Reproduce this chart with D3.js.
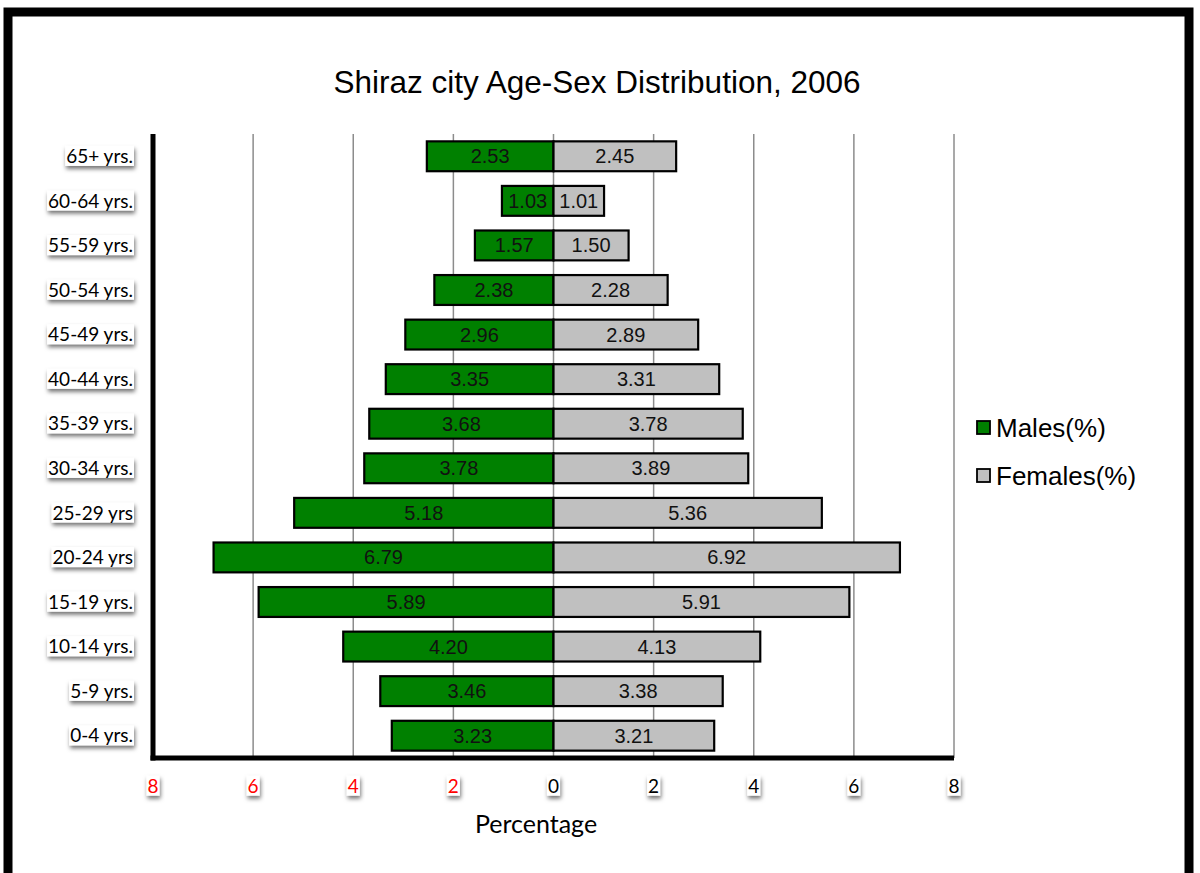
<!DOCTYPE html>
<html>
<head>
<meta charset="utf-8">
<script src="https://cdn.jsdelivr.net/npm/d3@7"></script>
<style>
body { margin: 0; background: #fff; }
svg { display: block; }
</style>
</head>
<body>
<div id="chart"></div>
<script>
const ageGroups = ["65+ yrs.", "60-64 yrs.", "55-59 yrs.", "50-54 yrs.", "45-49 yrs.", "40-44 yrs.", "35-39 yrs.",
	"30-34 yrs.", "25-29 yrs", "20-24 yrs", "15-19 yrs.", "10-14 yrs.", "5-9 yrs.", "0-4 yrs."];
const males = [2.53, 1.03, 1.57, 2.38, 2.96, 3.35, 3.68, 3.78, 5.18, 6.79, 5.89, 4.20, 3.46, 3.23];
const females = [2.45, 1.01, 1.50, 2.28, 2.89, 3.31, 3.78, 3.89, 5.36, 6.92, 5.91, 4.13, 3.38, 3.21];
const xTicks = [-8, -6, -4, -2, 0, 2, 4, 6, 8];
const seriesNames = ["Males(%)", "Females(%)"];

const W = 1200, H = 873;
const plot = { left: 153, right: 954, top: 134, bottom: 758 };
const colors = ["#008000", "#c0c0c0"];

const svg = d3.select("#chart").append("svg")
	.attr("width", W)
	.attr("height", H);

const defs = svg.append("defs");
const shadow = defs.append("filter").attr("id", "shadow")
	.attr("x", "-40%").attr("y", "-30%").attr("width", "180%").attr("height", "190%");
shadow.append("feDropShadow")
	.attr("dx", 1).attr("dy", 3).attr("stdDeviation", 2)
	.attr("flood-color", "#000").attr("flood-opacity", 0.55);

// outer frame
svg.append("rect")
	.attr("x", 8).attr("y", 12)
	.attr("width", 1181).attr("height", 870)
	.attr("fill", "#fff")
	.attr("stroke", "#000")
	.attr("stroke-width", 9);

svg.append("text")
	.attr("x", 597).attr("y", 93)
	.attr("text-anchor", "middle")
	.style("font-family", "'Liberation Sans', Arial, sans-serif")
	.style("font-size", "31.5px")
	.text("Shiraz city Age-Sex Distribution, 2006");

const x = d3.scaleLinear().domain([-8, 8]).range([plot.left, plot.right]);
const y = d3.scaleBand().domain(ageGroups).range([plot.top, plot.bottom]).paddingInner(0.33).paddingOuter(0.165);

// gridlines
svg.append("g")
	.selectAll("line")
	.data(xTicks.filter(d => d !== -8))
	.enter()
	.append("line")
	.attr("x1", d => x(d)).attr("x2", d => x(d))
	.attr("y1", plot.top).attr("y2", plot.bottom)
	.attr("stroke", "#8c8c8c")
	.attr("stroke-width", 1.5);

const rows = ageGroups.map((g, i) => ({ group: g, male: males[i], female: females[i] }));

const bars = svg.append("g");
bars.selectAll("rect.male")
	.data(rows)
	.enter()
	.append("rect")
	.attr("class", "male")
	.attr("x", d => x(-d.male))
	.attr("y", d => y(d.group))
	.attr("width", d => x(0) - x(-d.male))
	.attr("height", y.bandwidth())
	.attr("fill", colors[0])
	.attr("stroke", "#000")
	.attr("stroke-width", 2.2);

bars.selectAll("rect.female")
	.data(rows)
	.enter()
	.append("rect")
	.attr("class", "female")
	.attr("x", x(0))
	.attr("y", d => y(d.group))
	.attr("width", d => x(d.female) - x(0))
	.attr("height", y.bandwidth())
	.attr("fill", colors[1])
	.attr("stroke", "#000")
	.attr("stroke-width", 2.2);

const labelFont = "'Liberation Sans', Arial, sans-serif";
bars.selectAll("text.male")
	.data(rows)
	.enter()
	.append("text")
	.attr("x", d => (x(-d.male) + x(0)) / 2)
	.attr("y", d => y(d.group) + y.bandwidth() / 2 + 7)
	.attr("text-anchor", "middle")
	.style("font-family", labelFont)
	.style("font-size", "20px")
	.attr("fill", "#111")
	.text(d => d.male.toFixed(2));

bars.selectAll("text.female")
	.data(rows)
	.enter()
	.append("text")
	.attr("x", d => (x(d.female) + x(0)) / 2)
	.attr("y", d => y(d.group) + y.bandwidth() / 2 + 7)
	.attr("text-anchor", "middle")
	.style("font-family", labelFont)
	.style("font-size", "20px")
	.attr("fill", "#111")
	.text(d => d.female.toFixed(2));

// axes lines
svg.append("line")
	.attr("x1", plot.left).attr("x2", plot.left)
	.attr("y1", plot.top).attr("y2", plot.bottom + 2.5)
	.attr("stroke", "#000").attr("stroke-width", 5);
svg.append("line")
	.attr("x1", plot.left - 2.5).attr("x2", plot.right)
	.attr("y1", plot.bottom).attr("y2", plot.bottom)
	.attr("stroke", "#000").attr("stroke-width", 5);

const axisFont = "Lato, 'Open Sans', sans-serif";

function boxBehind() {
	const b = this.getBBox();
	d3.select(this.parentNode).insert("rect", "text")
		.attr("x", b.x - 1).attr("y", b.y + 2)
		.attr("width", b.width + 2).attr("height", b.height - 3)
		.attr("fill", "#fff")
		.attr("filter", "url(#shadow)");
}

// y category labels with boxes
const yLab = svg.append("g").selectAll("g")
	.data(ageGroups)
	.enter()
	.append("g")
	.attr("transform", d => `translate(133, ${y(d) + y.bandwidth() / 2})`);
yLab.append("text")
	.attr("text-anchor", "end")
	.attr("dy", "0.35em")
	.style("font-family", axisFont)
	.style("font-size", "19px")
	.text(d => d)
	.each(boxBehind);

// x tick labels with boxes
const xLab = svg.append("g").selectAll("g")
	.data(xTicks)
	.enter()
	.append("g")
	.attr("transform", d => `translate(${x(d)}, 786)`);
xLab.append("text")
	.attr("text-anchor", "middle")
	.attr("dy", "0.35em")
	.style("font-family", axisFont)
	.style("font-size", "19px")
	.attr("fill", d => d < 0 ? "#ff0000" : "#000")
	.text(d => Math.abs(d))
	.each(boxBehind);

svg.append("text")
	.attr("x", 536)
	.attr("y", 833)
	.attr("text-anchor", "middle")
	.style("font-family", axisFont)
	.style("font-size", "25px")
	.text("Percentage");

// legend
const legend = svg.append("g").selectAll("g")
	.data(seriesNames)
	.enter()
	.append("g")
	.attr("transform", (d, i) => `translate(977, ${421 + i * 48})`);
legend.append("rect")
	.attr("width", 13).attr("height", 13)
	.attr("fill", (d, i) => colors[i])
	.attr("stroke", "#000")
	.attr("stroke-width", 1.8);
legend.append("text")
	.attr("x", 19).attr("y", 16)
	.style("font-family", labelFont)
	.style("font-size", "26px")
	.text(d => d);
</script>
</body>
</html>
